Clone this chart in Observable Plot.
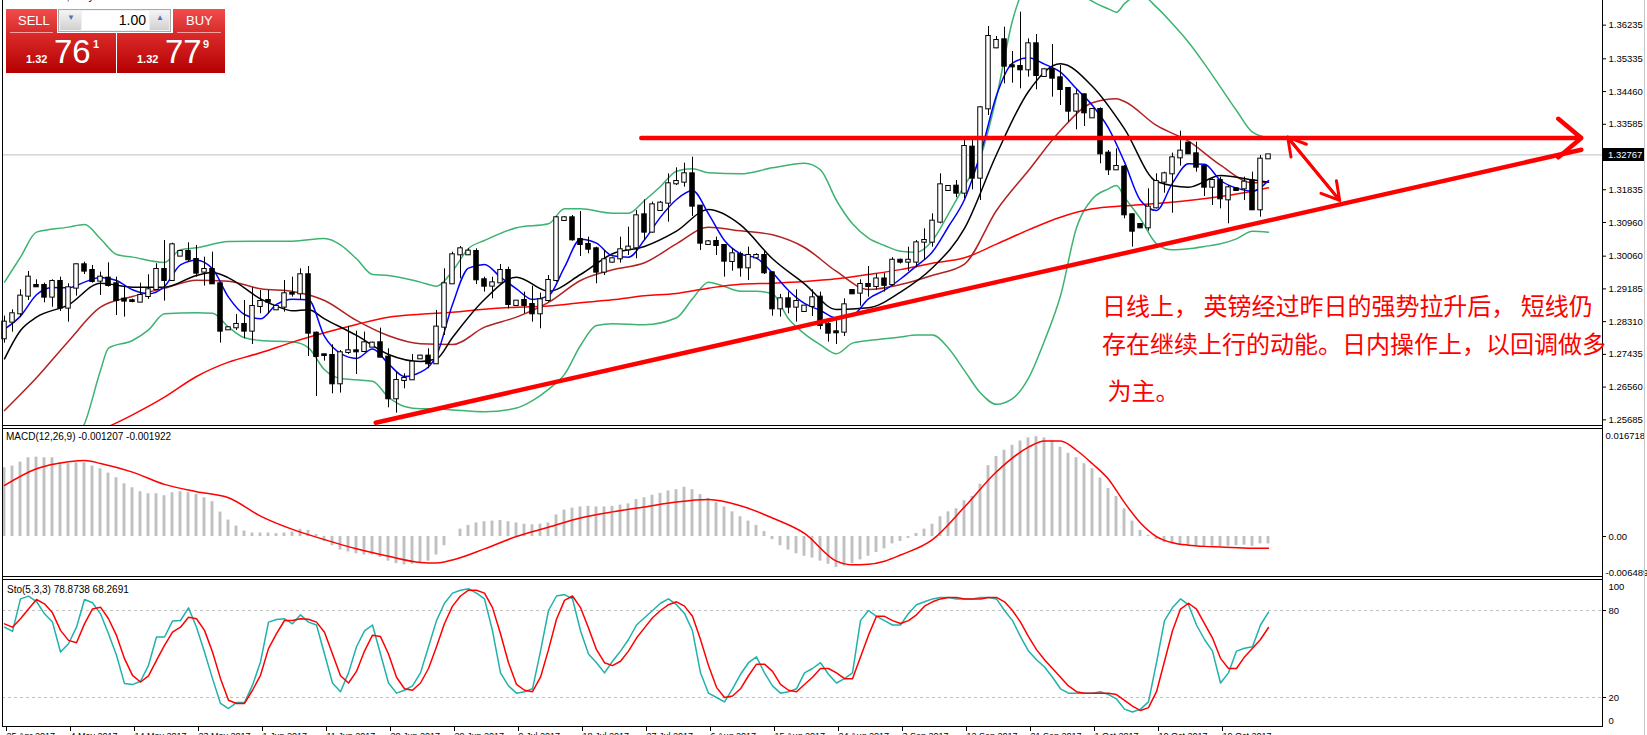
<!DOCTYPE html>
<html><head><meta charset="utf-8">
<script src="https://cdn.jsdelivr.net/npm/d3@7"></script>
<script src="https://cdn.jsdelivr.net/npm/@observablehq/plot@0.6"></script>
<style>
body{margin:0;background:#fff;}
#root{position:relative;width:1647px;height:735px;overflow:hidden;font-family:"Liberation Sans",Arial,sans-serif;background:#fff;}
.a{position:absolute;}
.hl{position:absolute;height:1px;background:#000;}
.vl{position:absolute;width:1px;background:#000;}
.cn{position:absolute;color:#ff0000;font-family:"Noto Sans CJK SC",sans-serif;font-size:24px;line-height:24px;white-space:pre;}
.red1{background:linear-gradient(#f24c4c,#d62b2b);}
.red2{background:linear-gradient(#dc2a2a,#b40000);}
.wt{color:#fff;position:absolute;white-space:nowrap;}
</style></head><body><div id="root"></div>
<script>
// ---------------- DATA ----------------
const open  = [1.27851,1.28296,1.28519,1.28991,1.29276,1.29276,1.28965,1.29383,1.28671,1.29205, // 0-9
 1.29829,1.29677,1.29392,1.29472,1.29321,1.28911,1.28867,1.28831,1.28982,1.29170, // 10-19
 1.29704,1.29410,1.30061,1.30185,1.29971,1.29633,1.29704,1.29321,1.28091,1.28145, // 20-29
 1.28234,1.28056,1.28715,1.28875,1.28626,1.28697,1.29063,1.29054,1.29562,1.28002, // 30-39
 1.27423,1.27405,1.26648,1.27486,1.27530,1.27512,1.27628,1.27744,1.27361,1.26247, // 40-49
 1.26737,1.26755,1.27316,1.27388,1.27183,1.28162,1.29321,1.30096,1.30096,1.30185, // 50-59
 1.29428,1.29258,1.29347,1.29677,1.28742,1.28875,1.28768,1.28519,1.28875,1.29410, // 60-69
 1.31014,1.31085,1.30506,1.30372,1.30256,1.29633,1.29900,1.29989,1.30230,1.30283, // 70-79
 1.31165,1.30702,1.31281,1.31477,1.31994,1.32038,1.32261,1.31397,1.30372,1.30452, // 80-89
 1.30345,1.29918,1.30105,1.29748,1.30016,1.30078,1.29615,1.28652,1.28920,1.28697, // 90-99
 1.28581,1.28715,1.28964,1.28234,1.28038,1.28029,1.29142,1.29071,1.29303,1.29250, // 100-109
 1.29450,1.29300,1.29950,1.29900,1.29900,1.30434,1.30434,1.30969,1.31815,1.31931, // 110-119
 1.31744,1.32974,1.32145,1.33998,1.35629,1.35843,1.35148,1.35130,1.35041,1.35736, // 120-129
 1.34863,1.35050,1.34827,1.34542,1.33936,1.34372,1.33758,1.33980,1.32813,1.32368, // 130-139
 1.32439,1.31165,1.30906,1.30817,1.31352,1.32038,1.32261,1.32688,1.33081,1.32795, // 140-149
 1.32457,1.31904,1.32083,1.31566,1.31860,1.31860,1.32065,1.31299,1.32662];        // 150-158
const high  = [1.28457,1.28626,1.29161,1.29651,1.29428,1.29339,1.29428,1.29499,1.29321,1.29856,
 1.29900,1.29811,1.29633,1.29882,1.29499,1.29276,1.28911,1.29339,1.29562,1.29856,
 1.30479,1.30408,1.30212,1.30417,1.30346,1.30034,1.30167,1.29339,1.28163,1.28501,
 1.28875,1.29214,1.29143,1.29143,1.28742,1.29410,1.29499,1.29722,1.29784,1.28029,
 1.27432,1.27690,1.27539,1.28181,1.28056,1.28029,1.27762,1.28136,1.27584,1.26960,
 1.26915,1.27432,1.27414,1.27584,1.28608,1.29722,1.30167,1.30319,1.30256,1.30256,
 1.29499,1.29499,1.29837,1.29766,1.28875,1.29098,1.29258,1.29071,1.29543,1.31121,
 1.31121,1.31147,1.31254,1.30568,1.30301,1.30212,1.30016,1.30568,1.30835,1.31281,
 1.31566,1.31504,1.31522,1.32261,1.32421,1.32546,1.32706,1.31415,1.30479,1.30568,
 1.30372,1.30256,1.30167,1.30301,1.30123,1.30194,1.29633,1.29036,1.29098,1.29160,
 1.28742,1.29160,1.29098,1.28296,1.28341,1.28920,1.29160,1.29428,1.29784,1.29580,
 1.29600,1.30020,1.29980,1.30300,1.30479,1.30791,1.31192,1.32261,1.31949,1.32083,
 1.33152,1.33152,1.34061,1.36199,1.35932,1.36181,1.35531,1.36582,1.35869,1.35985,
 1.35067,1.35718,1.35157,1.34560,1.34506,1.34399,1.33998,1.34025,1.32884,1.32929,
 1.32484,1.31192,1.30924,1.31860,1.32261,1.32305,1.32813,1.33401,1.33098,1.33107,
 1.32484,1.32127,1.32172,1.31949,1.31878,1.32172,1.32305,1.32751,1.32778];
const low   = [1.27735,1.28029,1.28430,1.28875,1.29232,1.28813,1.28697,1.28581,1.28296,1.28991,
 1.29570,1.29339,1.29009,1.29232,1.28475,1.28430,1.28813,1.28813,1.28902,1.29143,
 1.28858,1.29392,1.30050,1.29900,1.29499,1.29259,1.29303,1.27735,1.28074,1.28074,
 1.27851,1.27699,1.28519,1.28519,1.28608,1.28564,1.28965,1.28875,1.27379,1.26309,
 1.27254,1.26381,1.26399,1.27432,1.26897,1.27495,1.27610,1.27343,1.26006,1.25864,
 1.26514,1.26737,1.27298,1.27049,1.27165,1.27940,1.29303,1.29454,1.30078,1.29303,
 1.29098,1.28920,1.29321,1.28652,1.28724,1.28519,1.28296,1.28118,1.28831,1.29365,
 1.30996,1.30461,1.30052,1.30123,1.29321,1.29543,1.29873,1.29873,1.30078,1.29989,
 1.30479,1.30675,1.31263,1.30969,1.31949,1.31905,1.31121,1.30212,1.30363,1.30078,
 1.29499,1.29659,1.29499,1.29410,1.29989,1.29570,1.28456,1.28430,1.28519,1.28296,
 1.28563,1.28448,1.28091,1.27762,1.27699,1.27913,1.29036,1.28724,1.28964,1.29150,
 1.29100,1.29250,1.29850,1.29650,1.29750,1.29944,1.30301,1.30924,1.31797,1.31619,
 1.31593,1.31833,1.31548,1.33820,1.35602,1.34666,1.34684,1.34533,1.34845,1.34506,
 1.34845,1.34310,1.34087,1.33642,1.33437,1.33526,1.33758,1.32528,1.32216,1.32350,
 1.31058,1.30301,1.30800,1.30728,1.31325,1.31744,1.31209,1.32466,1.32778,1.32305,
 1.31655,1.31414,1.31325,1.30924,1.31797,1.31548,1.31281,1.31103,1.32659];
const close = [1.28296,1.28519,1.28991,1.29499,1.29241,1.28965,1.29383,1.28671,1.29214,1.29829,
 1.29660,1.29383,1.29499,1.29276,1.28875,1.28858,1.28849,1.29009,1.29161,1.29704,
 1.29410,1.30363,1.30185,1.29963,1.29606,1.29704,1.29321,1.28056,1.28145,1.28234,
 1.28056,1.28715,1.28849,1.28831,1.28715,1.29054,1.29045,1.29562,1.28002,1.27379,
 1.27405,1.26648,1.27477,1.27530,1.27503,1.27744,1.27735,1.27361,1.26247,1.26737,
 1.26791,1.27227,1.27388,1.27183,1.28163,1.29321,1.30096,1.30256,1.30194,1.29428,
 1.29258,1.29347,1.29677,1.28768,1.28857,1.28742,1.28519,1.28893,1.29410,1.31085,
 1.31085,1.30497,1.30372,1.30247,1.29633,1.29962,1.29989,1.30230,1.30301,1.31138,
 1.30702,1.31432,1.31477,1.31994,1.32056,1.32261,1.31397,1.30408,1.30443,1.30345,
 1.29927,1.30123,1.29748,1.30078,1.30078,1.29615,1.28652,1.28920,1.28697,1.28848,
 1.28724,1.28946,1.28207,1.28002,1.28011,1.28759,1.29053,1.29303,1.29249,1.29450,
 1.29280,1.29950,1.29900,1.29950,1.30416,1.30479,1.30996,1.31967,1.31922,1.31744,
 1.32991,1.32145,1.34025,1.35932,1.35825,1.35139,1.35121,1.35041,1.35736,1.34889,
 1.35041,1.34818,1.34515,1.33936,1.34372,1.33891,1.33980,1.32795,1.32368,1.32457,
 1.31165,1.30728,1.30817,1.31370,1.32056,1.32261,1.32688,1.32867,1.32795,1.32439,
 1.31904,1.32083,1.31593,1.31887,1.31815,1.32038,1.31299,1.32653,1.32767];

// moving averages / bands: [bar index, price]
const maFast = [[0,1.28109],[2,1.28457],[4,1.29027],[6,1.29223],[8,1.29214],[10,1.29366],[12,1.2949],[14,1.2941],[16,1.29161],[18,1.29054],[20,1.2925],[22,1.29829],[24,1.29954],[26,1.29722],[28,1.28965],[30,1.28501],[32,1.28385],[34,1.28769],[36,1.28911],[38,1.28893],[40,1.27913],[42,1.27459],[44,1.27325],[46,1.27575],[48,1.27183],[50,1.26844],[52,1.2696],[54,1.2740],[56,1.28768],[58,1.2974],[60,1.29837],[62,1.29499],[64,1.29187],[66,1.28902],[68,1.29],[70,1.29766],[72,1.30515],[74,1.30408],[76,1.30069],[78,1.30033],[80,1.30497],[82,1.31103],[84,1.31575],[86,1.31815],[88,1.31192],[90,1.30479],[92,1.30123],[94,1.30007],[96,1.29615],[98,1.29142],[100,1.28795],[102,1.28608],[104,1.28403],[106,1.28474],[108,1.2892],[110,1.2915],[112,1.2945],[114,1.2980],[116,1.30176],[118,1.30853],[120,1.31575],[122,1.32795],[124,1.34355],[126,1.35219],[128,1.35361],[130,1.35192],[132,1.34978],[134,1.34533],[136,1.34087],[138,1.33481],[140,1.32573],[142,1.31548],[144,1.31281],[146,1.32011],[148,1.32528],[150,1.32519],[152,1.32083],[154,1.31878],[156,1.31797],[158,1.32083]];
const maMid = [[0,1.27316],[2,1.28074],[4,1.2843],[8,1.2876],[12,1.29339],[16,1.29232],[20,1.29232],[24,1.29544],[26,1.29624],[28,1.29481],[32,1.2892],[34,1.28724],[36,1.28599],[38,1.28626],[40,1.28385],[44,1.2794],[48,1.27432],[52,1.27245],[54,1.27316],[56,1.27886],[60,1.28902],[64,1.29499],[68,1.29125],[72,1.2957],[76,1.30123],[80,1.30319],[84,1.30728],[88,1.31308],[92,1.30898],[96,1.29989],[100,1.29321],[104,1.28635],[108,1.28679],[112,1.2910],[116,1.2975],[120,1.308],[124,1.32778],[128,1.34462],[132,1.35201],[136,1.34595],[140,1.33464],[144,1.32056],[148,1.31904],[152,1.32216],[156,1.321],[158,1.32038]];
const maBand = [[0,1.25935],[4,1.26808],[8,1.27788],[12,1.28697],[16,1.28982],[20,1.29205],[24,1.29419],[28,1.29392],[32,1.29187],[36,1.29116],[40,1.28875],[44,1.28341],[48,1.27931],[52,1.27717],[56,1.27699],[60,1.28162],[64,1.2843],[68,1.28822],[72,1.2941],[76,1.29695],[80,1.29882],[84,1.3039],[88,1.30835],[92,1.30737],[96,1.3063],[100,1.30292],[104,1.2965],[108,1.29169],[112,1.2930],[116,1.2955],[120,1.2985],[124,1.31281],[128,1.3235],[132,1.33419],[136,1.34159],[139,1.34266],[140,1.34194],[144,1.33553],[148,1.33134],[152,1.32492],[156,1.3202],[158,1.32038]];
const maSlow = [[12,1.25401],[16,1.25819],[20,1.26292],[24,1.26844],[28,1.27227],[32,1.27477],[36,1.27762],[40,1.28011],[44,1.28234],[48,1.2843],[52,1.2851],[56,1.28563],[60,1.28644],[64,1.28697],[68,1.2873],[72,1.28813],[76,1.28893],[80,1.29],[84,1.29062],[88,1.29205],[92,1.29312],[96,1.29339],[100,1.29383],[104,1.29454],[108,1.2957],[112,1.2970],[116,1.2987],[120,1.30015],[124,1.30381],[128,1.30764],[132,1.31102],[136,1.31325],[140,1.31405],[144,1.31468],[148,1.31548],[152,1.31655],[156,1.31797],[158,1.31887]];
const bandUpper = [[0,1.29366],[2,1.30034],[4,1.30702],[8,1.30836],[10,1.30907],[12,1.30524],[14,1.30105],[16,1.30034],[20,1.29891],[22,1.3023],[24,1.30283],[28,1.30453],[32,1.30461],[36,1.30461],[40,1.30533],[42,1.30363],[44,1.29989],[46,1.2957],[48,1.29544],[52,1.29366],[54,1.29259],[56,1.2966],[58,1.30265],[60,1.30479],[64,1.30818],[68,1.30924],[70,1.31325],[72,1.31325],[76,1.3121],[78,1.3121],[80,1.31548],[82,1.31922],[84,1.32332],[86,1.32395],[88,1.32288],[92,1.32261],[96,1.32421],[100,1.32546],[102,1.32368],[104,1.31548],[106,1.30924],[108,1.30541],[110,1.30345],[112,1.30194],[114,1.30167],[116,1.30479],[118,1.31192],[120,1.31949],[122,1.32706],[124,1.3431],[126,1.36359],[128,1.3750],[130,1.3800],[132,1.3780],[134,1.3720],[136,1.3687],[138,1.3667],[139,1.3658],[140,1.3681],[142,1.3705],[144,1.36716],[146,1.3627],[148,1.3578],[150,1.35201],[152,1.34577],[154,1.33954],[156,1.33374],[158,1.33223]];
const bandLower = [[0,1.2420],[4,1.2440],[8,1.2500],[10,1.25579],[12,1.27005],[13,1.27601],[16,1.27806],[18,1.28091],[20,1.28519],[24,1.28546],[26,1.28537],[28,1.28163],[30,1.27878],[32,1.27806],[36,1.27771],[38,1.2761],[40,1.27022],[42,1.26791],[44,1.26755],[46,1.26719],[48,1.26292],[50,1.26042],[52,1.2598],[54,1.2598],[56,1.2595],[60,1.2590],[64,1.2600],[66,1.2620],[68,1.2650],[70,1.2690],[72,1.27672],[74,1.28207],[76,1.28252],[80,1.28225],[84,1.28412],[86,1.2892],[88,1.29365],[90,1.29249],[92,1.29125],[94,1.29125],[96,1.29053],[98,1.28385],[100,1.27984],[102,1.2769],[104,1.2745],[106,1.27735],[108,1.27806],[110,1.2785],[112,1.2790],[114,1.2795],[116,1.2795],[118,1.2760],[120,1.2700],[122,1.2640],[124,1.2610],[126,1.2625],[128,1.2680],[130,1.2780],[132,1.2900],[134,1.30817],[136,1.31593],[138,1.3186],[139,1.31949],[140,1.31637],[142,1.31058],[144,1.3039],[146,1.30229],[148,1.30256],[150,1.30318],[152,1.3039],[154,1.30523],[156,1.30728],[158,1.30702]];

// MACD(12,26,9): histogram per bar, signal [bar, value]
const macdHist = [0.01116,0.01143,0.01207,0.01278,0.01288,0.01278,0.01278,0.01197,0.0118,0.01197, // 0-9
 0.01197,0.01143,0.01099,0.01029,0.00954,0.00856,0.00791,0.00727,0.00694,0.00694, // 10-19
 0.00662,0.0071,0.00727,0.0071,0.00683,0.00629,0.00565,0.00397,0.00267,0.0017, // 20-29
 0.00089,0.00057,0.00057,0.00057,0.00046,0.00057,0.00073,0.00116,0.0010,0.0003, // 30-39
 -0.0008,-0.0015,-0.0022,-0.0025,-0.0028,-0.0030,-0.0030,-0.0034,-0.0040,-0.0044, // 40-49
 -0.0046,-0.0045,-0.0043,-0.0040,-0.0030,-0.0015,0.0000,0.0012,0.0018,0.0022, // 50-59
 0.0024,0.0025,0.0026,0.0024,0.0022,0.0020,0.0019,0.0020,0.0022,0.0035, // 60-69
 0.0043,0.0046,0.0048,0.0049,0.0048,0.0048,0.0049,0.0051,0.0053,0.0060, // 70-79
 0.0063,0.0067,0.0070,0.0074,0.0076,0.0080,0.0076,0.0068,0.0062,0.0055, // 80-89
 0.0048,0.0040,0.0032,0.0025,0.0018,0.0008,-0.0005,-0.0015,-0.0022,-0.0028, // 90-99
 -0.0032,-0.0035,-0.0040,-0.0045,-0.0050,-0.0048,-0.0044,-0.0038,-0.0032,-0.0026, // 100-109
 -0.0020,-0.0012,-0.0008,-0.0003,0.0005,0.0012,0.0020,0.0032,0.0040,0.0045, // 110-119
 0.0058,0.0065,0.0085,0.0115,0.0130,0.0140,0.0148,0.0155,0.0160,0.0162, // 120-129
 0.0160,0.0155,0.0145,0.0135,0.0128,0.0118,0.0110,0.0095,0.0078,0.0065, // 130-139
 0.0045,0.0025,0.0010,0.0002,-0.0005,-0.0010,-0.0012,-0.0014,-0.0015,-0.0016, // 140-149
 -0.0017,-0.0016,-0.0017,-0.0016,-0.0015,-0.0014,-0.0016,-0.0012,-0.001207]; // 150-158
const macdSignal = [[0,0.00829],[4,0.01099],[8,0.01213],[10,0.01235],[12,0.01186],[16,0.01045],[20,0.00846],[24,0.00727],[28,0.00629],[32,0.00332],[36,0.00116],[40,-0.0005],[44,-0.0020],[48,-0.0032],[52,-0.0042],[54,-0.0043],[56,-0.0038],[60,-0.0020],[64,0.0000],[68,0.0015],[72,0.0030],[76,0.0040],[80,0.0048],[84,0.0056],[88,0.0060],[92,0.0050],[96,0.0030],[100,0.0005],[104,-0.0040],[106,-0.0046],[108,-0.0045],[110,-0.0040],[112,-0.0030],[116,-0.0005],[120,0.0048],[124,0.0105],[128,0.0145],[130,0.0155],[132,0.0155],[134,0.0140],[136,0.0118],[138,0.0093],[140,0.0055],[142,0.0022],[144,0.0000],[146,-0.0010],[148,-0.0014],[150,-0.0016],[152,-0.0017],[156,-0.0019],[158,-0.001922]];

// Stochastic(5,3,3): main and signal per bar
const stoMain = [68.5,65.6,88.0,89.9,86.2,77.7,72.0,51.4,57.1,68.5, // 0-9
 87.6,85.3,77.7,64.0,49.1,29.6,28.9,31.2,42.2,61.7, // 10-19
 61.7,72.7,73.1,81.8,68.5,51.4,33.0,15.9,12.4,16.5, // 20-29
 16.5,28.5,44.5,72.0,73.8,74.3,70.8,77.0,72,70, // 30-39
 50,30,24,37,55,66,70,50,30,23, // 40-49
 25,28,37,55,73,85,92,94,95,92, // 50-59
 88,66,37,28,23,24,26,52,80,90, // 60-69
 91,88,66,50,44,37,45,52,60,70, // 70-79
 75,80,85,88,84,78,66,37,23,20, // 80-89
 17,26,36,44,48,37,28,23,24,26, // 90-99
 37,40,44,36,30,33,37,73,80,76, // 100-109
 73,70,70,78,84,86,88,89,89,88, // 110-119
 88,88,89,89,88,80,73,62,52,46, // 120-129
 41,34,26,23,23,23,23,24,22,19, // 130-139
 12,10,12,17,44,73,82,88,84,70, // 140-149
 60,52,30,37,52,54,55,70,78.87]; // 150-158
const stoSignal = [70.8,68.5,74.3,81.1,87.6,84.6,78.4,66.3,59.4,57.8, // 0-9
 70.8,81.1,82.3,74.3,62.8,46.8,35.3,30.7,34.9,45.6, // 10-19
 55.9,65.1,68.5,75.4,74.3,66.3,51.4,33.0,18.1,15.9, // 20-29
 15.9,25.0,35.3,53.7,64.0,73.1,73.1,74.3,74,72, // 30-39
 65,50,35,30,38,52,63,62,50,34, // 40-49
 26,25,30,40,55,71,83,90,94,94, // 50-59
 92,82,64,44,29,25,24,34,53,74, // 60-69
 87,90,82,68,53,44,42,45,52,61, // 70-79
 68,75,80,84,86,83,76,60,42,27, // 80-89
 20,21,26,35,43,43,38,29,25,24, // 90-99
 29,34,40,40,37,33,33,48,63,76, // 100-109
 76,73,71,73,77,83,86,88,89,89, // 110-119
 88,88,88,89,89,86,80,72,62,53, // 120-129
 46,40,34,28,24,23,23,23,23,22, // 130-139
 18,14,11,13,24,45,66,81,85,81, // 140-149
 71,61,47,40,40,48,54,60,68.27]; // 150-158

// axis ticks and labels
const priceTicks = [1.36235,1.35335,1.34460,1.33585,1.31835,1.30960,1.30060,1.29185,1.28310,1.27435,1.26560,1.25685];
const lastPrice = 1.32767;
const macdTop = 0.016718, macdBottom = -0.006489;
const macdTicks = [0];
const stoTicks = [80, 20];
const stoLevels = [20, 80];
const dateBars = [0,8,16,24,32,40,48,56,64,72,80,88,96,104,112,120,128,136,144,152];
const dateLabels = ["25 Apr 2017","4 May 2017","14 May 2017","23 May 2017","1 Jun 2017","11 Jun 2017","20 Jun 2017","29 Jun 2017","9 Jul 2017","18 Jul 2017","27 Jul 2017","6 Aug 2017","15 Aug 2017","24 Aug 2017","3 Sep 2017","12 Sep 2017","21 Sep 2017","1 Oct 2017","10 Oct 2017","19 Oct 2017"];

// hand-drawn annotations [bar, price]
const resistance = [[79.6,1.33216],[197.1,1.33216]];
const trend = [[46.4,1.25606],[197.1,1.32906]];
const pullback = [[160.4,1.3324],[166.9,1.3155]];
const note = ["日线上， 英镑经过昨日的强势拉升后， 短线仍","存在继续上行的动能。日内操作上，以回调做多"," 为主。"];

// ---------------- DRAW ----------------
const root = document.getElementById("root");
const fam = "'Liberation Sans', Arial, sans-serif";
const W = 1647;
const xDom = [-0.25, 199.75];
const AX = 9.5; // axis font size
const sty = {fontFamily: fam, fontSize: AX + "px", overflow: "visible", background: "none", color: "#000"};
const candles = close.map((c, i) => ({i, o: open[i], h: high[i], l: low[i], c}));
const P = () => ({x: d => d[0], y: d => d[1]});
const seg = (s, opts) => Plot.arrow([s], {x1: d => d[0][0], y1: d => d[0][1], x2: d => d[1][0], y2: d => d[1][1], ...opts});

function place(el, top) { const d = document.createElement("div"); d.className = "a"; d.style.left = "0px"; d.style.top = top + "px"; d.appendChild(el); root.appendChild(d); return d; }

const mainH = 425, pxPerUnit = 3741, topPrice = 1.36894;
const main = Plot.plot({
  width: W, height: mainH, marginLeft: 2, marginRight: 45, marginTop: 0, marginBottom: 0,
  x: {domain: xDom, axis: null, label: null},
  y: {domain: [topPrice - mainH / pxPerUnit, topPrice], axis: null, label: null},
  style: sty,
  marks: [
    Plot.ruleY([lastPrice], {stroke: "#c0c0c0"}),
    Plot.line(bandUpper, {...P(), stroke: "#3cb371", clip: true, curve: "monotone-x"}),
    Plot.line(bandLower, {...P(), stroke: "#3cb371", clip: true, curve: "monotone-x"}),
    Plot.line(maSlow, {...P(), stroke: "#ff0000", clip: true, curve: "monotone-x"}),
    Plot.line(maBand, {...P(), stroke: "#b22222", clip: true, curve: "monotone-x"}),
    Plot.line(maMid, {...P(), stroke: "#000000", clip: true, curve: "monotone-x"}),
    Plot.line(maFast, {...P(), stroke: "#0000ff", clip: true, curve: "monotone-x"}),
    Plot.ruleX(candles, {x: "i", y1: "l", y2: "h", stroke: "#000"}),
    Plot.rect(candles, {x1: d => d.i - 0.28, x2: d => d.i + 0.28, y1: "o", y2: "c", fill: d => d.c >= d.o ? "#ffffff" : "#000000", stroke: "#000", insetTop: -0.5, insetBottom: -0.5}),
    Plot.line(trend, {...P(), stroke: "#ff0000", strokeWidth: 4.5}),
    seg(resistance, {stroke: "#ff0000", strokeWidth: 4.5, headLength: 10, headAngle: 80}),
    seg(pullback, {stroke: "#ff0000", strokeWidth: 3, headLength: 10, headAngle: 60}),
    seg([pullback[1], pullback[0]], {stroke: "#ff0000", strokeWidth: 3, headLength: 10, headAngle: 60}),
    Plot.axisY(priceTicks, {anchor: "right", label: null, tickFormat: d => d.toFixed(5), tickSize: 3, tickPadding: 3, fontSize: AX})
  ]
});
place(main, 0);

const macdData = macdHist.map((v, i) => ({i, v}));
const macd = Plot.plot({
  width: W, height: 146, marginLeft: 2, marginRight: 45, marginTop: 3, marginBottom: 0,
  x: {domain: xDom, axis: null, label: null},
  y: {domain: [macdBottom, macdTop], axis: null, label: null},
  style: sty,
  marks: [
    Plot.rectY(macdData, {x1: d => d.i - 0.18, x2: d => d.i + 0.18, y1: 0, y2: d => d.v, fill: "#c0c0c0"}),
    Plot.line(macdSignal, {...P(), stroke: "#ff0000", curve: "monotone-x"}),
    Plot.axisY(macdTicks, {anchor: "right", label: null, tickFormat: () => "0.00", tickSize: 3, tickPadding: 3, fontSize: AX}),
    Plot.text([macdTop], {x: xDom[1], y: d => d, text: d => d.toFixed(6), textAnchor: "start", dx: 3, dy: 2, fontSize: AX}),
    Plot.text([macdBottom], {x: xDom[1], y: d => d, text: d => d.toFixed(6), textAnchor: "start", dx: 3, dy: -4, fontSize: AX})
  ]
});
place(macd, 430);

const stoM = stoMain.map((v, i) => [i, v]);
const stoS = stoSignal.map((v, i) => [i, v]);
const sto = Plot.plot({
  width: W, height: 170, marginLeft: 2, marginRight: 45, marginTop: 4, marginBottom: 21,
  x: {domain: xDom, axis: null, label: null},
  y: {domain: [0, 100], axis: null, label: null},
  style: sty,
  marks: [
    Plot.ruleY(stoLevels, {stroke: "#c0c0c0", strokeDasharray: "3,3"}),
    Plot.line(stoM, {...P(), stroke: "#20b2aa"}),
    Plot.line(stoS, {...P(), stroke: "#ff0000"}),
    Plot.axisY(stoTicks, {anchor: "right", label: null, tickSize: 3, tickPadding: 3, fontSize: AX}),
    Plot.text([100], {x: xDom[1], y: d => d, text: d => String(d), textAnchor: "start", dx: 6, dy: 5, fontSize: AX}),
    Plot.text([0], {x: xDom[1], y: d => d, text: d => String(d), textAnchor: "start", dx: 6, dy: -6, fontSize: AX}),
    Plot.axisX(dateBars, {anchor: "bottom", label: null, tickFormat: d => dateLabels[dateBars.indexOf(d)], textAnchor: "start", tickSize: 5, tickPadding: 1, dx: 2, fontSize: 9})
  ]
});
place(sto, 577);

// frame lines
function line(cls, l, t, w, h, color) { const d = document.createElement("div"); d.className = cls; d.style.left = l + "px"; d.style.top = t + "px"; if (w) d.style.width = w + "px"; if (h) d.style.height = h + "px"; if (color) d.style.background = color; root.appendChild(d); }
line("vl", 2, 0, 0, 727);
line("vl", 1602, 0, 0, 727);
line("vl", 1644, 0, 0, 735, "#c8c8c8");
[425, 428, 576, 579, 726].forEach(t => line("hl", 2, t, 1601, 0));

// current price box
const yLast = main.scale("y").apply(lastPrice);
const box = document.createElement("div");
box.className = "a";
box.style.cssText = `left:1603px;top:${yLast - 6.5}px;width:41px;height:13px;background:#000;color:#fff;font:${AX}px ${fam};line-height:13px;padding-left:5px;box-sizing:border-box;`;
box.textContent = lastPrice.toFixed(5);
root.appendChild(box);

// indicator captions
function txt(s, l, t, css) { const d = document.createElement("div"); d.className = "a"; d.style.cssText += `left:${l}px;top:${t}px;white-space:nowrap;` + (css || ""); d.textContent = s; root.appendChild(d); return d; }
txt("MACD(12,26,9) -0.001207 -0.001922", 6, 431, `font:10px ${fam};color:#000;`);
txt("Sto(5,3,3) 78.8738 68.2691", 7, 584, `font:10px ${fam};color:#000;`);
txt("GBPUSD,Daily  1.32659 1.32816 1.32653 1.32767", 20, -9, `font:11px ${fam};color:#000;line-height:11px;`);

// note text
note.forEach((s, k) => { const d = document.createElement("div"); d.className = "cn"; d.style.left = "1102px"; d.style.top = [293, 331, 378][k] + "px"; d.textContent = s; root.appendChild(d); });

// one-click trading panel
const otc = document.createElement("div");
otc.className = "a"; otc.style.cssText = "left:0;top:0;width:240px;height:80px;";
otc.innerHTML = `
<div class="a red1" style="left:6px;top:9px;width:51px;height:24px;"></div>
<div class="a red1" style="left:173px;top:9px;width:52px;height:24px;"></div>
<div class="a red2" style="left:6px;top:33px;width:110px;height:40px;"></div>
<div class="a red2" style="left:117px;top:33px;width:108px;height:40px;"></div>
<div class="a" style="left:10px;top:32px;width:43px;height:1px;background:#f7a0a0;"></div>
<div class="a" style="left:177px;top:32px;width:44px;height:1px;background:#f7a0a0;"></div>
<div class="a" style="left:58px;top:9px;width:113px;height:23px;background:#f0f0f0;border:1px solid #a8a8a8;box-sizing:border-box;"></div>
<div class="a" style="left:60px;top:11px;width:21px;height:19px;background:linear-gradient(#f4f4f4,#d0d0d0);"></div>
<div class="a" style="left:82px;top:11px;width:67px;height:19px;background:#fff;"></div>
<div class="a" style="left:150px;top:11px;width:19px;height:19px;background:linear-gradient(#f4f4f4,#d0d0d0);"></div>
<div class="wt" style="left:67px;top:13px;font:8px ${fam};color:#5a6fb0;">▼</div>
<div class="wt" style="left:156px;top:13px;font:8px ${fam};color:#5a6fb0;">▲</div>
<div class="wt" style="left:82px;top:12px;width:64px;text-align:right;font:14px ${fam};color:#000;">1.00</div>
<div class="wt" style="left:18px;top:13px;font:13px ${fam};">SELL</div>
<div class="wt" style="left:186px;top:13px;font:13px ${fam};">BUY</div>
<div class="wt" style="left:26px;top:53px;font:bold 11px ${fam};">1.32</div>
<div class="wt" style="left:54px;top:33px;font:33px ${fam};">76</div>
<div class="wt" style="left:93px;top:38px;font:bold 11px ${fam};">1</div>
<div class="wt" style="left:137px;top:53px;font:bold 11px ${fam};">1.32</div>
<div class="wt" style="left:165px;top:33px;font:33px ${fam};">77</div>
<div class="wt" style="left:203px;top:38px;font:bold 11px ${fam};">9</div>`;
root.appendChild(otc);
</script></body></html>
